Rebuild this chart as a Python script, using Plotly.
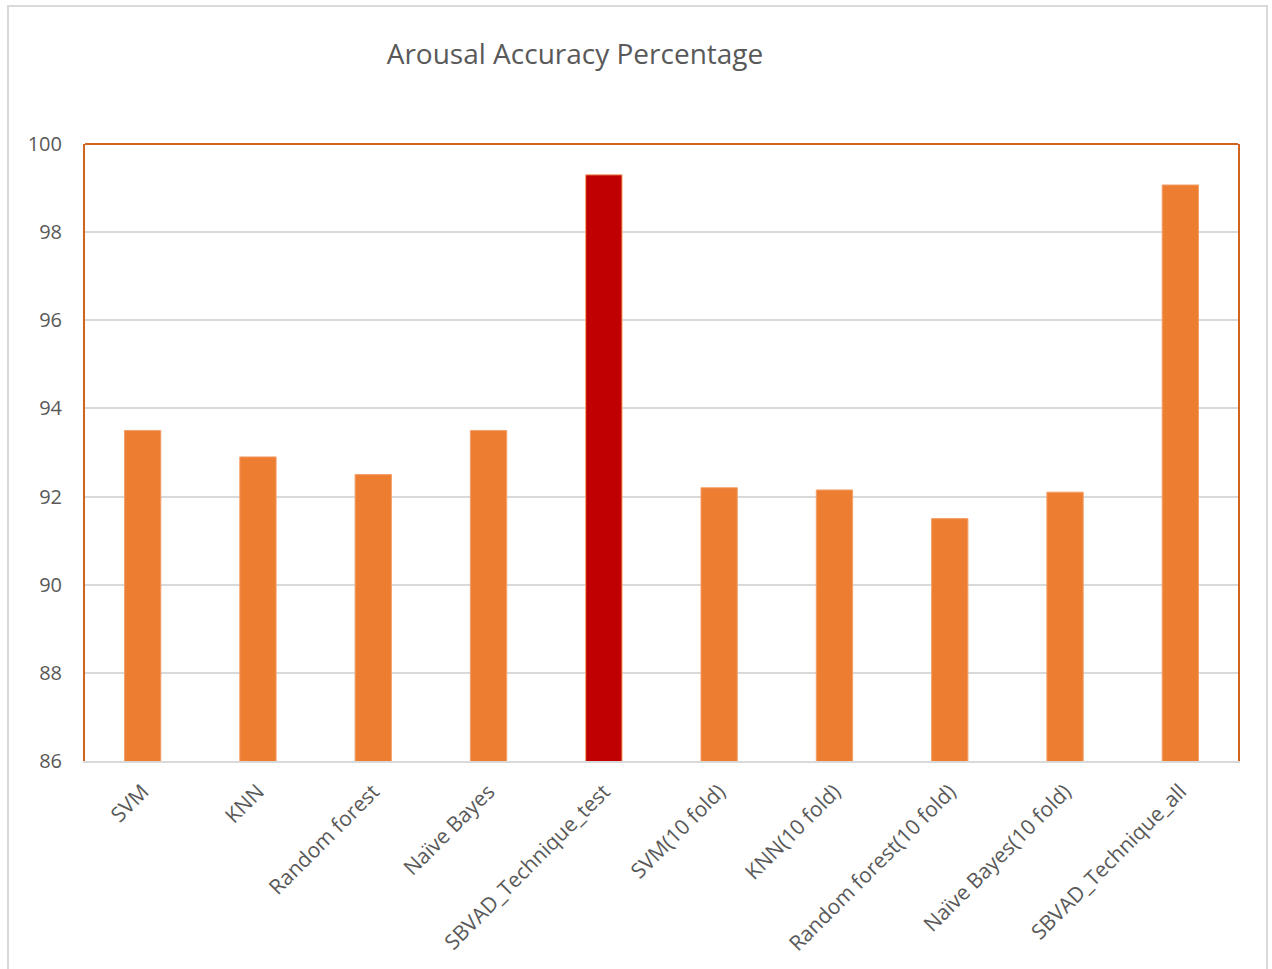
import plotly.graph_objects as go

categories = ["SVM", "KNN", "Random forest", "Naïve Bayes", "SBVAD_Technique_test",
              "SVM(10 fold)", "KNN(10 fold)", "Random forest(10 fold)",
              "Naïve Bayes(10 fold)", "SBVAD_Technique_all"]
accuracy = [93.5, 92.9, 92.5, 93.5, 99.3, 92.2, 92.15, 91.5, 92.1, 99.07]
bar_colors = ["#ED7D31"] * 4 + ["#C00000"] + ["#ED7D31"] * 5
y_ticks = [86, 88, 90, 92, 94, 96, 98, 100]

W, H = 1272, 969
L, R, T, B = 85, 34, 144, 208
pw, ph = W - L - R, H - T - B

fig = go.Figure(go.Bar(
    x=categories, y=accuracy,
    marker=dict(color=bar_colors, line=dict(color="#F4A06A", width=1)),
))

text_color = "#595959"
font_family = "Open Sans"

fig.update_layout(
    width=W, height=H,
    margin=dict(l=L, r=R, t=T, b=B),
    paper_bgcolor="white", plot_bgcolor="white",
    bargap=0.685,
    showlegend=False,
    font=dict(family=font_family, color=text_color, size=18),
    title=dict(text="Arousal Accuracy Percentage",
               font=dict(family=font_family, size=28, color=text_color),
               x=(575 - L) / pw, xref="paper", xanchor="center",
               y=1 - 54 / H, yref="container", yanchor="middle"),
    xaxis=dict(tickangle=-45, showline=True, linecolor="#D9D9D9", linewidth=2,
               showgrid=False, ticks="", ticklabelstandoff=8,
               tickfont=dict(size=21, color=text_color)),
    yaxis=dict(range=[86, 100], tickvals=y_ticks, showgrid=True,
               gridcolor="#D9D9D9", gridwidth=1.5,
               showline=True, linecolor="#D0641E", linewidth=2, mirror=True,
               ticks="", ticklabelstandoff=17, zeroline=False,
               tickfont=dict(size=20, color=text_color)),
    shapes=[
        dict(type="line", xref="paper", yref="paper", x0=0, x1=1, y0=1, y1=1,
             line=dict(color="#D0641E", width=2)),
        dict(type="rect", xref="paper", yref="paper",
             x0=(8 - L) / pw, x1=(1267 - L) / pw,
             y0=-(B + 10) / ph, y1=1 + (T - 6) / ph,
             line=dict(color="#D9D9D9", width=2), fillcolor="rgba(0,0,0,0)"),
    ],
)

fig.write_html("out.html")
